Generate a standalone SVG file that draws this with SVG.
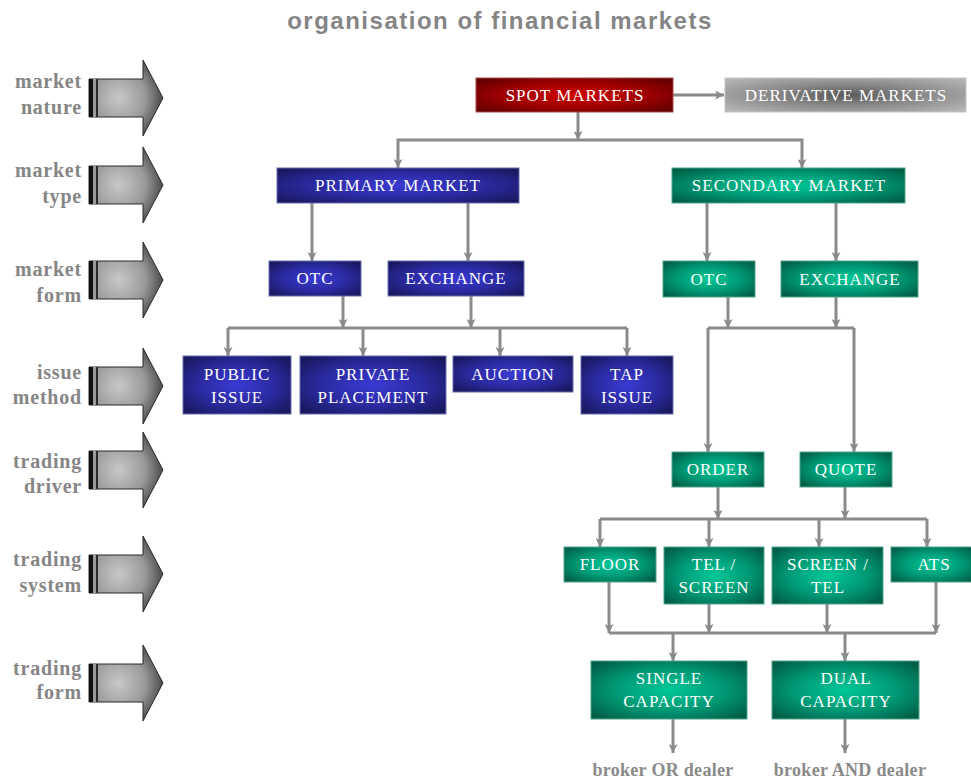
<svg xmlns="http://www.w3.org/2000/svg" width="971" height="780" viewBox="0 0 971 780">
<defs>
<style>
.title{font-family:"Liberation Sans",Arial,sans-serif;font-weight:bold;font-size:24px;fill:#858585;letter-spacing:1.5px}
.lbl{font-family:"Liberation Serif","Times New Roman",serif;font-weight:bold;font-size:20px;fill:#858585;text-anchor:end;letter-spacing:0.8px}
.nt{font-family:"Liberation Serif","Times New Roman",serif;font-size:17px;fill:#ffffff;text-anchor:middle;letter-spacing:1px}
.foot{font-family:"Liberation Serif","Times New Roman",serif;font-weight:bold;font-size:18px;fill:#8a8a8a;text-anchor:middle;letter-spacing:0.3px}
.blue{fill:url(#gBlue);stroke:#6c6cb0;stroke-width:1}
.green{fill:url(#gGreen);stroke:#4fa48c;stroke-width:1}
.red{fill:url(#gRed);stroke:#a84848;stroke-width:1}
.grey{fill:url(#gGrey);stroke:#c4c4c4;stroke-width:1}
.con path{fill:none;stroke:#8a8a8a;stroke-width:3}
.arr{marker-end:url(#ah)}
</style>
<radialGradient id="gBlue" cx="0.5" cy="0.5" r="0.65">
<stop offset="0" stop-color="#3a3ad4"/><stop offset="0.55" stop-color="#2a2aa0"/><stop offset="1" stop-color="#18185e"/>
</radialGradient>
<radialGradient id="gGreen" cx="0.5" cy="0.5" r="0.65">
<stop offset="0" stop-color="#00c898"/><stop offset="0.55" stop-color="#009874"/><stop offset="1" stop-color="#005e48"/>
</radialGradient>
<radialGradient id="gRed" cx="0.5" cy="0.5" r="0.65">
<stop offset="0" stop-color="#d00000"/><stop offset="0.55" stop-color="#a00000"/><stop offset="1" stop-color="#620000"/>
</radialGradient>
<radialGradient id="gGrey" cx="0.5" cy="0.5" r="0.65">
<stop offset="0" stop-color="#5a5a5a"/><stop offset="0.5" stop-color="#8a8a8a"/><stop offset="1" stop-color="#b4b4b4"/>
</radialGradient>
<radialGradient id="gArrow" cx="0.4" cy="0.5" r="0.6">
<stop offset="0" stop-color="#c8c8c8"/><stop offset="0.6" stop-color="#9a9a9a"/><stop offset="1" stop-color="#4a4a4a"/>
</radialGradient>
<marker id="ah" viewBox="0 0 10 10" refX="10" refY="5" markerWidth="9" markerHeight="9" markerUnits="userSpaceOnUse" orient="auto">
<path d="M0,0 L10,5 L0,10 L2.5,5 z" fill="#8a8a8a"/>
</marker>
<g id="bigArrow">
<polygon points="89,-19 143,-19 143,-38 163,0 143,38 143,19 89,19" fill="url(#gArrow)" stroke="#2a2a2a" stroke-width="1"/>
<rect x="89" y="-19" width="4" height="38" fill="#111"/>
<rect x="93" y="-19" width="3" height="38" fill="#9a9a9a"/>
<rect x="96" y="-19" width="2" height="38" fill="#2a2a2a"/>
</g>
</defs>
<rect width="971" height="780" fill="#ffffff"/>

<text class="title" x="500" y="29" text-anchor="middle">organisation of financial markets</text>

<g id="levels">
<use href="#bigArrow" y="98"/>
<use href="#bigArrow" y="185"/>
<use href="#bigArrow" y="280"/>
<use href="#bigArrow" y="386"/>
<use href="#bigArrow" y="470"/>
<use href="#bigArrow" y="574"/>
<use href="#bigArrow" y="683"/>
<text class="lbl" x="82" y="88">market</text><text class="lbl" x="82" y="114">nature</text>
<text class="lbl" x="82" y="177">market</text><text class="lbl" x="82" y="203">type</text>
<text class="lbl" x="82" y="276">market</text><text class="lbl" x="82" y="302">form</text>
<text class="lbl" x="82" y="379">issue</text><text class="lbl" x="82" y="404">method</text>
<text class="lbl" x="82" y="468">trading</text><text class="lbl" x="82" y="493">driver</text>
<text class="lbl" x="82" y="566">trading</text><text class="lbl" x="82" y="592">system</text>
<text class="lbl" x="82" y="675">trading</text><text class="lbl" x="82" y="699">form</text>
</g>

<g id="connectors" class="con">
<path class="arr" d="M673 95 H724"/>
<path class="arr" d="M578 112 V140"/>
<path class="arr" d="M578 140 H398 V168"/>
<path class="arr" d="M578 140 H802 V168"/>
<path class="arr" d="M312 203 V261"/>
<path class="arr" d="M468 203 V261"/>
<path class="arr" d="M343 296 V328"/>
<path class="arr" d="M471 296 V328"/>
<path d="M228 328 H627"/>
<path class="arr" d="M228 328 V356"/>
<path class="arr" d="M363 328 V356"/>
<path class="arr" d="M500 328 V356"/>
<path class="arr" d="M627 328 V356"/>
<path class="arr" d="M707 203 V261"/>
<path class="arr" d="M836 203 V261"/>
<path class="arr" d="M728 297 V328"/>
<path class="arr" d="M836 297 V328"/>
<path d="M708 328 H854"/>
<path class="arr" d="M708 328 V452"/>
<path class="arr" d="M854 328 V452"/>
<path class="arr" d="M718 487 V519"/>
<path class="arr" d="M845 487 V519"/>
<path d="M600 519 H927"/>
<path class="arr" d="M600 519 V547"/>
<path class="arr" d="M709 519 V547"/>
<path class="arr" d="M819 519 V547"/>
<path class="arr" d="M927 519 V547"/>
<path class="arr" d="M609 582 V633"/>
<path class="arr" d="M709 604 V633"/>
<path class="arr" d="M827 604 V633"/>
<path class="arr" d="M936 582 V633"/>
<path d="M609 633 H936"/>
<path class="arr" d="M673 633 V661"/>
<path class="arr" d="M845 633 V661"/>
<path class="arr" d="M673 719 V753"/>
<path class="arr" d="M845 719 V753"/>
</g>

<g id="spot"><rect class="red" x="476" y="78" width="197" height="34"/><text class="nt" x="575" y="101">SPOT MARKETS</text></g>
<g id="derivative"><rect class="grey" x="725" y="78" width="241" height="34"/><text class="nt" x="846" y="101" fill="#eeeeee">DERIVATIVE MARKETS</text></g>

<g id="primary"><rect class="blue" x="277" y="168" width="242" height="35"/><text class="nt" x="398" y="191">PRIMARY MARKET</text></g>
<g id="secondary"><rect class="green" x="672" y="168" width="233" height="35"/><text class="nt" x="789" y="191">SECONDARY MARKET</text></g>

<g id="otc-p"><rect class="blue" x="269" y="261" width="92" height="35"/><text class="nt" x="315" y="284">OTC</text></g>
<g id="exchange-p"><rect class="blue" x="388" y="261" width="136" height="35"/><text class="nt" x="456" y="284">EXCHANGE</text></g>
<g id="otc-s"><rect class="green" x="663" y="261" width="92" height="36"/><text class="nt" x="709" y="285">OTC</text></g>
<g id="exchange-s"><rect class="green" x="781" y="261" width="137" height="36"/><text class="nt" x="850" y="285">EXCHANGE</text></g>

<g id="public"><rect class="blue" x="183" y="356" width="108" height="58"/><text class="nt" x="237" y="380">PUBLIC</text><text class="nt" x="237" y="403">ISSUE</text></g>
<g id="private"><rect class="blue" x="300" y="356" width="146" height="58"/><text class="nt" x="373" y="380">PRIVATE</text><text class="nt" x="373" y="403">PLACEMENT</text></g>
<g id="auction"><rect class="blue" x="453" y="356" width="120" height="36"/><text class="nt" x="513" y="380">AUCTION</text></g>
<g id="tap"><rect class="blue" x="581" y="356" width="92" height="58"/><text class="nt" x="627" y="380">TAP</text><text class="nt" x="627" y="403">ISSUE</text></g>

<g id="order"><rect class="green" x="672" y="452" width="92" height="35"/><text class="nt" x="718" y="475">ORDER</text></g>
<g id="quote"><rect class="green" x="800" y="452" width="92" height="35"/><text class="nt" x="846" y="475">QUOTE</text></g>

<g id="floor"><rect class="green" x="564" y="547" width="92" height="35"/><text class="nt" x="610" y="570">FLOOR</text></g>
<g id="telscreen"><rect class="green" x="664" y="547" width="100" height="57"/><text class="nt" x="714" y="570">TEL /</text><text class="nt" x="714" y="593">SCREEN</text></g>
<g id="screentel"><rect class="green" x="772" y="547" width="111" height="57"/><text class="nt" x="828" y="570">SCREEN /</text><text class="nt" x="828" y="593">TEL</text></g>
<g id="ats"><rect class="green" x="891" y="547" width="84" height="35"/><text class="nt" x="934" y="570">ATS</text></g>

<g id="single"><rect class="green" x="591" y="661" width="156" height="58"/><text class="nt" x="669" y="684">SINGLE</text><text class="nt" x="669" y="707">CAPACITY</text></g>
<g id="dual"><rect class="green" x="772" y="661" width="147" height="58"/><text class="nt" x="846" y="684">DUAL</text><text class="nt" x="846" y="707">CAPACITY</text></g>

<text class="foot" x="663" y="776">broker OR dealer</text>
<text class="foot" x="850" y="776">broker AND dealer</text>
</svg>
